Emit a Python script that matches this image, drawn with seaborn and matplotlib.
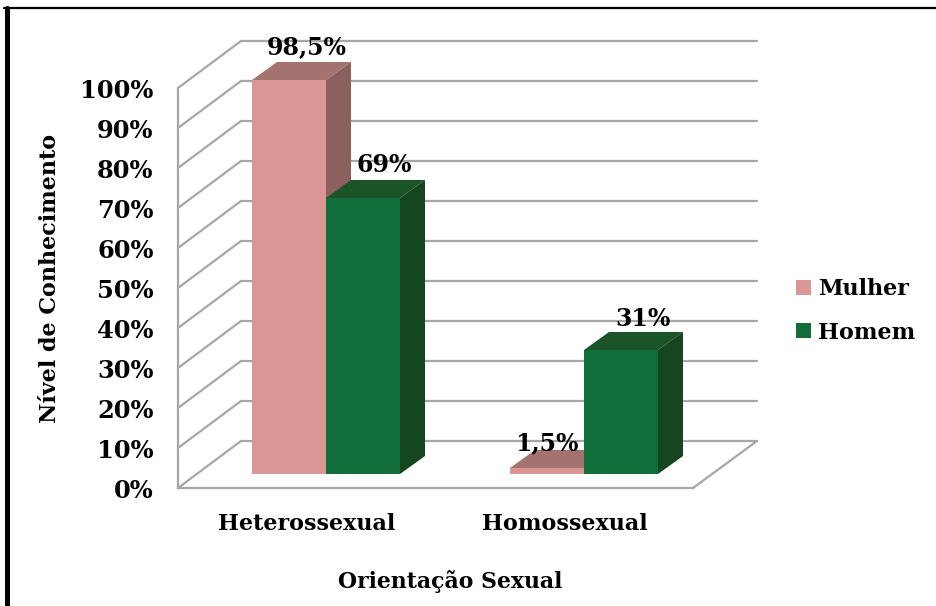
import matplotlib
matplotlib.use("Agg")
import matplotlib.pyplot as plt
import pandas as pd
import seaborn as sns
from matplotlib.lines import Line2D
from matplotlib.patches import Polygon

# --- Data ---
CATEGORIES = ["Heterossexual", "Homossexual"]
MULHER = [98.5, 1.5]
HOMEM = [69, 31]
MULHER_LABELS = ["98,5%", "1,5%"]
HOMEM_LABELS = ["69%", "31%"]
TICKS = list(range(0, 101, 10))

# --- Style ---
W, H = 936, 606
PX_PER_CAT = 258  # distance between the two groups
PX_PER_PCT = 4
GRID = "#a6a6a6"
COLORS = {"Mulher": "#d99694", "Homem": "#116e3a"}
TOP = {"Mulher": "#a47370", "Homem": "#1b5426"}
SIDE = {"Mulher": "#8b605f", "Homem": "#16461f"}
FONT = "DejaVu Serif"

sns.set_theme(style="white")
plt.rcParams["font.family"] = FONT
plt.rcParams["font.weight"] = "bold"


def box(left, right, top, bottom):
    # pixel box (top-left origin) -> figure fraction
    return [left / W, 1 - bottom / H, (right - left) / W, (bottom - top) / H]


df = pd.DataFrame({
    "cat": CATEGORIES * 2,
    "sexo": ["Mulher"] * len(MULHER) + ["Homem"] * len(HOMEM),
    "valor": MULHER + HOMEM,
})

fig = plt.figure(figsize=(W / 100, H / 100), dpi=100)

# front plane: ticks, tick labels, axis titles
front = fig.add_axes(box(178, 693, 88, 488))
front.set_xlim((178 - 307) / PX_PER_CAT, (693 - 307) / PX_PER_CAT)
front.set_ylim(0, 100)
front.set_xticks([0, 1], CATEGORIES)
front.set_yticks(TICKS, [f"{t}%" for t in TICKS])
front.tick_params(axis="y", length=5, width=1.6, color=GRID, labelsize=17.4, pad=12.5, labelcolor="black")
front.tick_params(axis="x", length=0, labelsize=16, pad=18, labelcolor="black")
for s in ["top", "right"]:
    front.spines[s].set_visible(False)
for s in ["left", "bottom"]:
    front.spines[s].set_color(GRID)
    front.spines[s].set_linewidth(1.6)
front.patch.set_alpha(0)
front.set_xlabel("Orientação Sexual", fontsize=15.8, fontweight="bold", labelpad=25, color="black", x=0.528)
front.set_ylabel("Nível de Conhecimento", fontsize=16, fontweight="bold", labelpad=14, color="black", y=0.525)

# bar plane, 14 px behind the front plane
ax = fig.add_axes(box(178, 693, 74, 474))
ax.patch.set_alpha(0)
sns.barplot(data=df, x="cat", y="valor", hue="sexo", order=CATEGORIES, hue_order=["Mulher", "Homem"],
            palette=COLORS, saturation=1, width=148 / PX_PER_CAT, gap=0, errorbar=None, ax=ax, zorder=3,
            linewidth=0)
ax.set_xlim((178 - 326) / PX_PER_CAT, (693 - 326) / PX_PER_CAT)
ax.set_ylim(0, 100)
ax.axis("off")

# oblique floor lines and back wall
x_front = ax.get_xlim()[0]
x_right = ax.get_xlim()[1]
x_back = x_front + 63 / PX_PER_CAT
x_end = x_back + (757 - 241) / PX_PER_CAT
y_front = -14 / PX_PER_PCT
y_back = 33 / PX_PER_PCT
for t in TICKS:
    ax.plot([x_front, x_back, x_end], [t + y_front, t + y_back, t + y_back],
            color=GRID, lw=1.6, clip_on=False, zorder=1, solid_joinstyle="miter")
ax.plot([x_right, x_end], [y_front, y_back], color=GRID, lw=1.6, clip_on=False, zorder=1)

# 3D faces of the bars
dx = 25 / PX_PER_CAT
dy = 18 / PX_PER_PCT
for i, (name, container) in enumerate(zip(["Mulher", "Homem"], ax.containers)):
    for bar in container:
        bar.set_zorder(3 + i * 2)
        x0, x1 = bar.get_x(), bar.get_x() + bar.get_width()
        h = bar.get_height()
        ax.add_patch(Polygon([(x0, h), (x1, h), (x1 + dx, h + dy), (x0 + dx, h + dy)],
                             color=TOP[name], lw=0, clip_on=False, zorder=2 + i * 2))
        ax.add_patch(Polygon([(x1, 0), (x1 + dx, dy), (x1 + dx, h + dy), (x1, h)],
                             color=SIDE[name], lw=0, clip_on=False, zorder=2 + i * 2))

# value labels (pixel shifts from the bar's top centre)
shifts = [[(18, 33), (0, 25)], [(21, 33), (22, 31)]]
for container, texts, shift in zip(ax.containers, [MULHER_LABELS, HOMEM_LABELS], shifts):
    for bar, txt, (sx, sy) in zip(container, texts, shift):
        ax.annotate(txt, (bar.get_x() + bar.get_width() / 2, bar.get_height()),
                    xytext=(sx * 0.72, sy * 0.72), textcoords="offset points",
                    ha="center", va="center", fontsize=17, fontweight="bold",
                    color="black", zorder=10, annotation_clip=False)

handles, labels = ax.get_legend_handles_labels()
ax.legend(handles, labels, loc="center left", bbox_to_anchor=(796 / W, 1 - 311 / H),
          bbox_transform=fig.transFigure, frameon=False, fontsize=16, handlelength=0.68,
          handleheight=0.68, handletextpad=0.32, labelspacing=0.95, borderpad=0, borderaxespad=0,
          labelcolor="black")

# picture frame: left and top edges only
fig.add_artist(Line2D([6.5 / W, 6.5 / W], [0, 1 - 8 / H], color="black", lw=3.6))
fig.add_artist(Line2D([4 / W, 1], [1 - 8 / H, 1 - 8 / H], color="black", lw=1.6))

fig.savefig("out.png", dpi=100)
